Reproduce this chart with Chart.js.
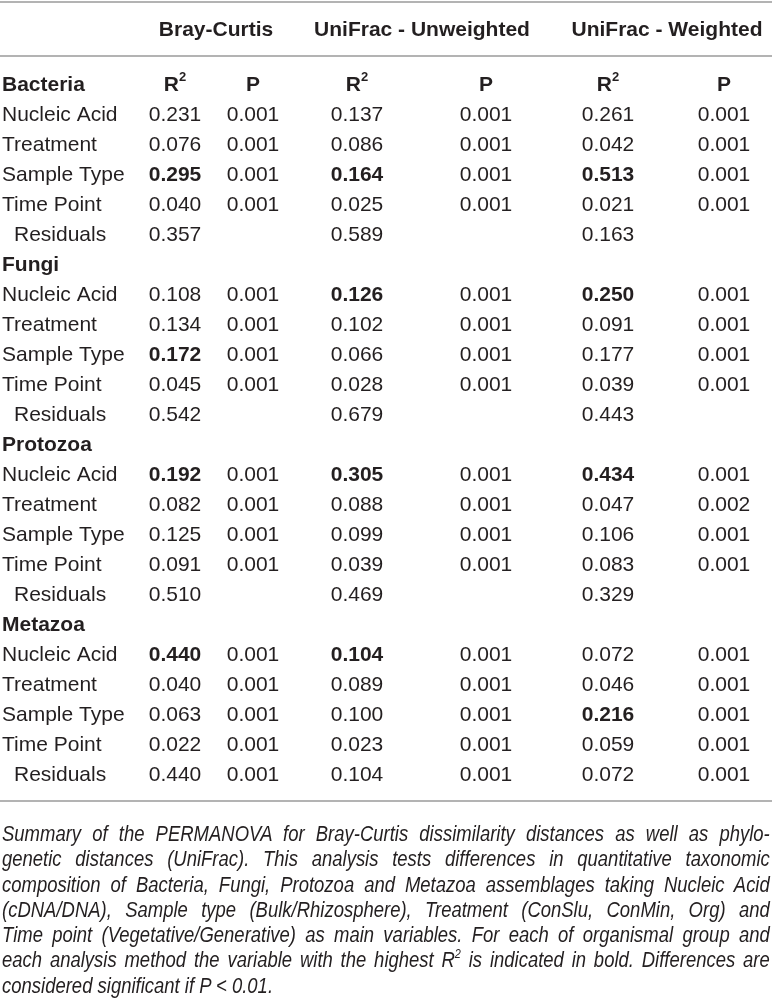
<!DOCTYPE html>
<html>
<head>
<meta charset="utf-8">
<script src="https://cdn.jsdelivr.net/npm/chart.js@4/dist/chart.umd.min.js"></script>
<style>
  html, body { margin: 0; padding: 0; background: #fff; }
  #wrap { position: relative; width: 772px; height: 1005px; overflow: hidden; }
  #canvas { position: absolute; left: 0; top: 0; }
  #caption {
    position: absolute; left: 2px; top: 821px; width: 768px;
    font-family: "Liberation Sans", Arial, sans-serif;
    font-style: italic; font-size: 22px; line-height: 25.3px; color: #231f20;
  }
  #caption div {
    white-space: nowrap; width: 914px; height: 25.3px;
    text-align: justify; text-align-last: justify;
    transform: scaleX(0.84); transform-origin: 0 0;
  }
  #caption div.last { text-align-last: left; }
  #caption sup { font-size: 13px; line-height: 0; vertical-align: baseline; position: relative; top: -9px; }
</style>
</head>
<body>
<div id="wrap">
  <canvas id="canvas" width="772" height="1005"></canvas>
  <div id="caption">
    <div>Summary of the PERMANOVA for Bray-Curtis dissimilarity distances as well as phylo-</div>
    <div>genetic distances (UniFrac). This analysis tests differences in quantitative taxonomic</div>
    <div>composition of Bacteria, Fungi, Protozoa and Metazoa assemblages taking Nucleic Acid</div>
    <div>(cDNA/DNA), Sample type (Bulk/Rhizosphere), Treatment (ConSlu, ConMin, Org) and</div>
    <div>Time point (Vegetative/Generative) as main variables. For each of organismal group and</div>
    <div>each analysis method the variable with the highest R<sup>2</sup> is indicated in bold. Differences are</div>
    <div class="last">considered significant if P &lt; 0.01.</div>
  </div>
</div>
<script>
//****DATA****//

var methods = ['Bray-Curtis', 'UniFrac - Unweighted', 'UniFrac - Weighted'];
var groups = ['Bacteria', 'Fungi', 'Protozoa', 'Metazoa'];
var variables = ['Nucleic Acid', 'Treatment', 'Sample Type', 'Time Point', 'Residuals'];

// one row per group, values follow the order of variables
var brayR2 = [
  [0.231, 0.076, 0.295, 0.040, 0.357],
  [0.108, 0.134, 0.172, 0.045, 0.542],
  [0.192, 0.082, 0.125, 0.091, 0.510],
  [0.440, 0.040, 0.063, 0.022, 0.440]
];
var brayP = [
  [0.001, 0.001, 0.001, 0.001, null],
  [0.001, 0.001, 0.001, 0.001, null],
  [0.001, 0.001, 0.001, 0.001, null],
  [0.001, 0.001, 0.001, 0.001, 0.001]
];
var unweightedR2 = [
  [0.137, 0.086, 0.164, 0.025, 0.589],
  [0.126, 0.102, 0.066, 0.028, 0.679],
  [0.305, 0.088, 0.099, 0.039, 0.469],
  [0.104, 0.089, 0.100, 0.023, 0.104]
];
var unweightedP = [
  [0.001, 0.001, 0.001, 0.001, null],
  [0.001, 0.001, 0.001, 0.001, null],
  [0.001, 0.001, 0.001, 0.001, null],
  [0.001, 0.001, 0.001, 0.001, 0.001]
];
var weightedR2 = [
  [0.261, 0.042, 0.513, 0.021, 0.163],
  [0.250, 0.091, 0.177, 0.039, 0.443],
  [0.434, 0.047, 0.106, 0.083, 0.329],
  [0.072, 0.046, 0.216, 0.059, 0.072]
];
var weightedP = [
  [0.001, 0.001, 0.001, 0.001, null],
  [0.001, 0.001, 0.001, 0.001, null],
  [0.001, 0.002, 0.001, 0.001, null],
  [0.001, 0.001, 0.001, 0.001, 0.001]
];
// index of the variable printed in bold, per group, for each method
var brayBold = [2, 2, 0, 0];
var unweightedBold = [2, 0, 0, 0];
var weightedBold = [2, 0, 0, 2];

//****LAYOUT****//

var W = 772;
var H = 1005;
var TEXT = '#231f20';
var RULE = '#b3b3b3';
var FONT = '"Liberation Sans", Arial, sans-serif';
var colX = [175, 253, 357, 486, 608, 724];
var headX = [216, 422, 667];
var headY = 30;
var firstRowY = 85;
var rowStep = 30;
var labelX = 2;
var indentX = 14;
var rulesY = [2, 56, 801];

function rowY(i) {
  return firstRowY + i * rowStep;
}

//****BUILD DATASETS****//

var columns = [
  { r: brayR2, bold: brayBold, head: 'R' },
  { r: brayP, head: 'P' },
  { r: unweightedR2, bold: unweightedBold, head: 'R' },
  { r: unweightedP, head: 'P' },
  { r: weightedR2, bold: weightedBold, head: 'R' },
  { r: weightedP, head: 'P' }
];

var datasets = [];

// horizontal rules
rulesY.forEach(function (y) {
  datasets.push({
    type: 'line',
    data: [{ x: 0, y: y }, { x: W, y: y }],
    borderColor: RULE,
    borderWidth: 2,
    pointRadius: 0,
    clip: false
  });
});

// method headers
datasets.push({
  cellText: true,
  data: methods.map(function (m, i) {
    return { x: headX[i], y: headY, text: m, bold: true, align: 'center' };
  }),
  pointRadius: 0
});

// row labels
var labelData = [];
var r = 0;
groups.forEach(function (g) {
  labelData.push({ x: labelX, y: rowY(r), text: g, bold: true, align: 'left' });
  r++;
  variables.forEach(function (v) {
    var x = v === 'Residuals' ? indentX : labelX;
    labelData.push({ x: x, y: rowY(r), text: v, bold: false, align: 'left' });
    r++;
  });
});
datasets.push({ cellText: true, data: labelData, pointRadius: 0 });

// value columns
columns.forEach(function (col, ci) {
  var pts = [{ x: colX[ci], y: rowY(0), text: col.head, sup: col.head === 'R' ? '2' : null, bold: true, align: 'center' }];
  var row = 0;
  groups.forEach(function (g, gi) {
    row++;
    col.r[gi].forEach(function (val, vi) {
      if (val !== null) {
        pts.push({
          x: colX[ci],
          y: rowY(row),
          text: val.toFixed(3),
          bold: col.bold ? col.bold[gi] === vi : false,
          align: 'center'
        });
      }
      row++;
    });
  });
  datasets.push({ cellText: true, data: pts, pointRadius: 0 });
});

//****TEXT PLUGIN****//

var cellTextPlugin = {
  id: 'cellText',
  afterDatasetsDraw: function (chart) {
    var ctx = chart.ctx;
    ctx.save();
    ctx.fillStyle = TEXT;
    ctx.textBaseline = 'middle';
    chart.data.datasets.forEach(function (ds, i) {
      if (!ds.cellText) return;
      var meta = chart.getDatasetMeta(i);
      meta.data.forEach(function (el, j) {
        var d = ds.data[j];
        ctx.font = (d.bold ? 'bold ' : '') + '21px ' + FONT;
        if (d.sup) {
          var mainW = ctx.measureText(d.text).width;
          ctx.font = 'bold 13px ' + FONT;
          var supW = ctx.measureText(d.sup).width;
          var x0 = el.x - (mainW + supW) / 2;
          ctx.textAlign = 'left';
          ctx.fillText(d.sup, x0 + mainW, el.y - 8);
          ctx.font = 'bold 21px ' + FONT;
          ctx.fillText(d.text, x0, el.y);
        } else {
          ctx.textAlign = d.align;
          ctx.fillText(d.text, el.x, el.y);
        }
      });
    });
    ctx.restore();
  }
};

//****CHART****//

var chart = new Chart(document.getElementById('canvas').getContext('2d'), {
  type: 'scatter',
  data: { datasets: datasets },
  options: {
    responsive: false,
    animation: false,
    layout: { padding: 0 },
    plugins: { legend: { display: false }, tooltip: { enabled: false } },
    scales: {
      x: { type: 'linear', min: 0, max: W, display: false },
      y: { type: 'linear', min: 0, max: H, reverse: true, display: false }
    }
  },
  plugins: [cellTextPlugin]
});
</script>
</body>
</html>
